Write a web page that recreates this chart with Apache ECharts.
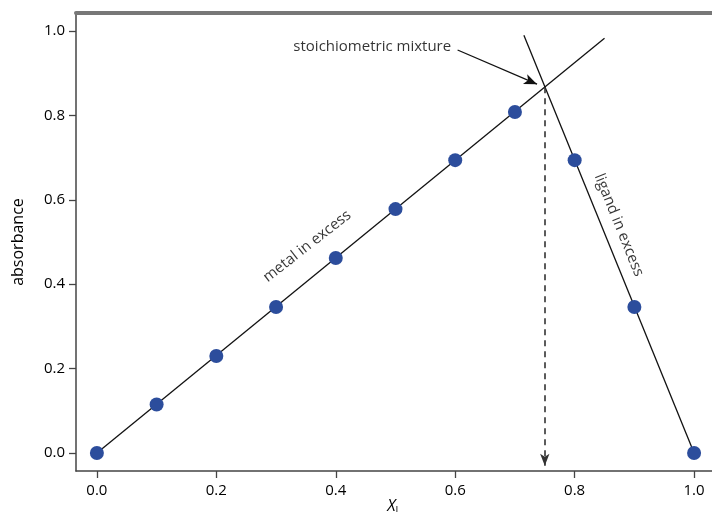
<!DOCTYPE html>
<html>
<head>
<meta charset="utf-8">
<script src="https://cdn.jsdelivr.net/npm/echarts@6/dist/echarts.min.js"></script>
<style>
  html, body { margin: 0; padding: 0; background: #fff; }
  #chart { width: 712px; height: 512px; }
</style>
</head>
<body>
<div id="chart"></div>
<script>
// measured points (mole fraction of ligand vs absorbance)
const xMetal = [0, 0.1, 0.2, 0.3, 0.4, 0.5, 0.6, 0.7];
const absMetal = [0, 0.115, 0.23, 0.346, 0.462, 0.578, 0.694, 0.808];
const xLigand = [0.8, 0.9, 1.0];
const absLigand = [0.694, 0.346, 0];

// fitted straight lines (end points)
const metalFit = [[0, 0], [0.85, 0.983]];
const ligandFit = [[0.715, 0.99], [1.0, 0]];
const stoichPoint = [0.75, 0.867];

const tickValues = [0, 0.2, 0.4, 0.6, 0.8, 1.0];

// annotation anchors
const arrowFrom = [0.604, 0.955];
const arrowTo = [0.737, 0.874];
const noteStoich = { text: "stoichiometric mixture", at: [0.594, 0.962] };
const noteMetal = { text: "metal in excess", at: [0.352, 0.49] };
const noteLigand = { text: "ligand in excess", at: [0.874, 0.54] };

const FONT = "Open Sans";
const INK = "#000";

const chart = echarts.init(document.getElementById("chart"));

const points = xMetal.map((x, i) => [x, absMetal[i]])
  .concat(xLigand.map((x, i) => [x, absLigand[i]]));

function note(n, opts) {
  return {
    type: "scatter",
    silent: true,
    symbolSize: 1,
    itemStyle: { color: "rgba(0,0,0,0)" },
    data: [n.at],
    z: 5,
    label: Object.assign({
      show: true,
      formatter: n.text,
      color: INK,
      fontFamily: FONT,
      fontSize: 15,
    }, opts),
  };
}

const option = {
  animation: false,
  grid: { left: 76, right: 0, top: 13, bottom: 41, outerBoundsMode: "none", containLabel: false },
  xAxis: [
    {
      type: "value",
      min: -0.035,
      max: 1.03,
      name: "{x|X}{s|L}",
      nameLocation: "middle",
      nameGap: 26,
      nameMoveOverlap: false,
      nameTextStyle: {
        rich: {
          x: { fontFamily: FONT, fontStyle: "italic", fontSize: 16, color: INK },
          s: { fontFamily: FONT, fontSize: 10, color: INK, padding: [9, 0, 0, 0] },
        },
      },
      axisLine: { onZero: false, lineStyle: { color: "#444", width: 1.5 } },
      axisTick: { customValues: tickValues, length: 7, lineStyle: { color: "#444", width: 1.3 } },
      axisLabel: {
        customValues: tickValues,
        formatter: (v) => v.toFixed(1),
        color: INK,
        fontFamily: FONT,
        fontSize: 15,
        margin: 12,
      },
      splitLine: { show: false },
    },
    {
      type: "value",
      position: "top",
      min: -0.035,
      max: 1.03,
      axisLine: { onZero: false, lineStyle: { color: "#777", width: 4 } },
      axisTick: { show: false },
      axisLabel: { show: false },
      splitLine: { show: false },
    },
  ],
  yAxis: {
    type: "value",
    min: -0.0427,
    max: 1.0427,
    name: "absorbance",
    nameLocation: "middle",
    nameGap: 50,
    nameTextStyle: { fontFamily: FONT, fontSize: 16, color: INK },
    axisLine: { show: true, onZero: false, lineStyle: { color: "#444", width: 1.5 } },
    axisTick: { customValues: tickValues, length: 7, lineStyle: { color: "#444", width: 1.3 } },
    axisLabel: {
      customValues: tickValues,
      formatter: (v) => v.toFixed(1),
      color: INK,
      fontFamily: FONT,
      fontSize: 15,
      margin: 11,
    },
    splitLine: { show: false },
  },
  series: [
    {
      type: "line",
      data: metalFit,
      symbol: "none",
      lineStyle: { color: "#111", width: 1.3 },
      z: 2,
      markLine: {
        silent: true,
        symbol: ["none", "arrow"],
        label: { show: false },
        data: [
          [
            { coord: stoichPoint, symbol: "none" },
            { coord: [stoichPoint[0], -0.03], symbol: "arrow", symbolSize: [7, 12] },
          ],
          [
            { coord: arrowFrom, symbol: "none", lineStyle: { type: "solid", color: "#111", width: 1.3 } },
            { coord: arrowTo, symbol: "arrow", symbolSize: [8, 13] },
          ],
        ],
        lineStyle: { color: "#333", width: 1.6, type: [6, 5] },
      },
    },
    {
      type: "line",
      data: ligandFit,
      symbol: "none",
      lineStyle: { color: "#111", width: 1.3 },
      z: 2,
    },
    {
      type: "scatter",
      data: points,
      symbolSize: 14,
      itemStyle: { color: "#2c4d9c", opacity: 1 },
      z: 3,
    },
    note(noteStoich, { position: "left", distance: 0 }),
    note(noteMetal, { position: "inside", rotate: 38 }),
    note(noteLigand, { position: "inside", rotate: -68 }),
  ],
};

chart.setOption(option);
window.addEventListener("resize", () => chart.resize());
</script>
</body>
</html>
